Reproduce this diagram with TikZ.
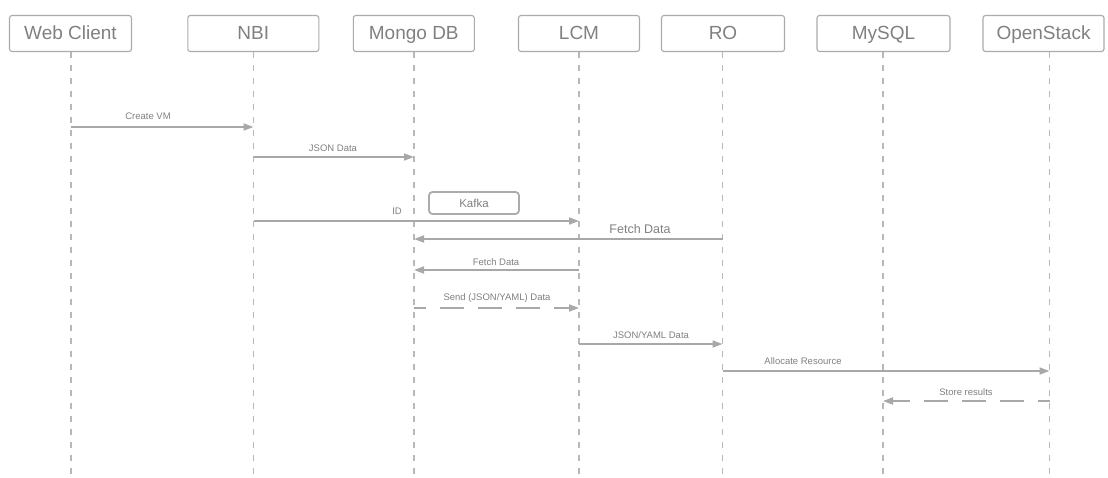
\documentclass[tikz,border=0pt]{standalone}
\usepackage{fontspec}
\setmainfont{Liberation Sans}
\usetikzlibrary{arrows.meta}
\definecolor{boxline}{HTML}{ABABAB}
\definecolor{txt}{HTML}{808080}
\definecolor{lane}{HTML}{B8B8B8}
\definecolor{msgc}{HTML}{A8A8A8}
\tikzset{
  head/.style={draw=boxline, line width=1.1pt, rounded corners=2.5pt, minimum height=36pt, inner sep=0pt, text=txt, text height=16.6pt, text depth=4pt, font=\fontsize{19}{19}\selectfont},
  lifeline/.style={draw=lane, line width=1.8pt, dash pattern=on 6pt off 7pt},
  msg/.style={draw=msgc, line width=1.8pt, -{Triangle[length=10pt,width=7pt]}},
  rmsg/.style={msg, dash pattern=on 24pt off 14pt, dash phase=12pt},
  lbl/.style={text=txt, font=\fontsize{9.5}{10}\selectfont, inner sep=0pt},
  biglbl/.style={text=txt, font=\fontsize{12.5}{13}\selectfont, inner sep=0pt},
  kbox/.style={draw=boxline, line width=1.8pt, rounded corners=3.5pt, minimum width=90pt, minimum height=22pt, inner sep=0pt, text=txt, font=\fontsize{11.5}{12}\selectfont}
}
\begin{document}
\begin{tikzpicture}[x=1pt,y=-1pt]
\useasboundingbox (0,0) rectangle (1108,477);
% headers
\node[head, minimum width=122pt] (wc) at (70.5,33.5) {Web Client};
\node[head, minimum width=131pt] (nbi) at (253.3,33.5) {NBI};
\node[head, minimum width=121pt] (mdb) at (413.8,33.5) {Mongo DB};
\node[head, minimum width=121pt] (lcm) at (579,33.5) {LCM};
\node[head, minimum width=123pt] (ro) at (723,33.5) {RO};
\node[head, minimum width=133pt] (sql) at (883.5,33.5) {MySQL};
\node[head, minimum width=121pt] (os) at (1043.5,33.5) {OpenStack};
% lifeline x positions and bottom
\coordinate (bot) at (0,477);
\coordinate (wcx) at (71,0);
\coordinate (nbix) at (253.5,0);
\coordinate (mdbx) at (414,0);
\coordinate (lcmx) at (579,0);
\coordinate (rox) at (722.5,0);
\coordinate (sqlx) at (883,0);
\coordinate (osx) at (1049.5,0);
\foreach \n/\x in {wc/wcx,nbi/nbix,mdb/mdbx,lcm/lcmx,ro/rox,sql/sqlx,os/osx}{
  \draw[lifeline] (\x |- \n.south) -- (\x |- bot);
}
% rows
\coordinate (r1) at (0,127);
\coordinate (r2) at (0,157);
\coordinate (r3) at (0,221);
\coordinate (r4) at (0,239);
\coordinate (r5) at (0,270);
\coordinate (r6) at (0,308);
\coordinate (r7) at (0,344);
\coordinate (r8) at (0,371);
\coordinate (r9) at (0,401);
% kafka
\node[kbox] (kafka) at (474,203) {Kafka};
% messages
\draw[msg] (wcx |- r1) -- (nbix |- r1);
\node[lbl] (l1) at (148,116.5) {Create VM};
\draw[msg] (nbix |- r2) -- (mdbx |- r2);
\node[lbl] (l2) at (333,148) {JSON Data};
\draw[msg] (nbix |- r3) -- (lcmx |- r3);
\node[lbl] (l3) at (397,211) {ID};
\draw[msg] (rox |- r4) -- (mdbx |- r4);
\node[biglbl] (l4) at (640,229) {Fetch Data};
\draw[msg] (lcmx |- r5) -- (mdbx |- r5);
\node[lbl] (l5) at (496,262) {Fetch Data};
\draw[rmsg] (mdbx |- r6) -- (lcmx |- r6);
\node[lbl] (l6) at (497,298) {Send (JSON/YAML) Data};
\draw[msg] (lcmx |- r7) -- (rox |- r7);
\node[lbl] (l7) at (651,335) {JSON/YAML Data};
\draw[msg] (rox |- r8) -- (osx |- r8);
\node[lbl] (l8) at (803,361) {Allocate Resource};
\draw[rmsg] (osx |- r9) -- (sqlx |- r9);
\node[lbl] (l9) at (966,392) {Store results};
\end{tikzpicture}
\end{document}
